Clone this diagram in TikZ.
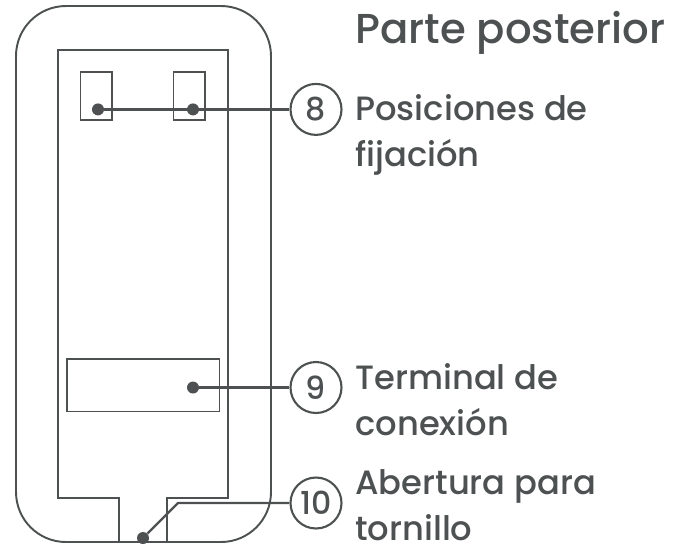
\documentclass[tikz,border=0pt]{standalone}
\usepackage{fontspec}
\setmainfont{Poppins Medium}
\definecolor{inkgray}{HTML}{4D5152}
\tikzset{
  part/.style={draw=inkgray,line width=1.1pt},
  conn/.style={draw=inkgray,line width=1.3pt},
  pin/.style={circle,fill=inkgray,inner sep=0pt,minimum size=0.24cm},
  badge/.style={circle,draw=inkgray,line width=1.2pt,inner sep=0pt,minimum size=1.02cm,text=inkgray,font=\fontsize{18}{20}\selectfont},
  caption/.style={anchor=west,align=left,text=inkgray,inner sep=0pt,font=\fontsize{19.2}{26.1}\selectfont},
}
\begin{document}
\begin{tikzpicture}[x=0.02cm,y=-0.02cm]
  \useasboundingbox (0,0) rectangle (685,545);
  \draw[part] (16,56) arc[start angle=180,end angle=90,radius=1cm] -- (221,6)
    arc[start angle=90,end angle=0,radius=1cm] -- (271,492)
    arc[start angle=0,end angle=-90,radius=1cm] -- (66,542)
    arc[start angle=270,end angle=180,radius=1cm] -- cycle;
  \draw[part] (58,50) rectangle (228,498);
  \fill[white] (120,497) rectangle (166,499);
  \draw[part] (119,498) -- (119,542);
  \draw[part] (167,498) -- (167,542);
  \draw[part] (80.5,72) rectangle (112,120);
  \draw[part] (173.5,72) rectangle (205,120);
  \draw[part] (67,359) rectangle (219.5,411.5);

  \node[pin] (pinA) at (98,109.4) {};
  \node[pin] (pinB) at (193,109.4) {};
  \node[pin] (pinC) at (193,387.5) {};
  \node[pin] (pinD) at (143,538) {};
  \node[badge] (numA) at (316,109.4) {8};
  \node[badge] (numB) at (316,387.5) {9};
  \node[badge] (numC) at (316,503) {10};
  \coordinate (bendC) at (178,503);

  \draw[conn] (numA) -- (pinA);
  \draw[conn] (numB) -- (pinC);
  \draw[conn] (numC) -- (bendC) -- (pinD);

  \node[anchor=base west,inner sep=0pt,text=inkgray,font=\fontsize{23.8}{26}\selectfont] (title) at (355,43) {Parte posterior};
  \node[caption] (capA) at (355,134.5) {Posiciones de\\fijación};
  \node[caption] (capB) at (355,400) {Terminal de\\conexión};
  \node[caption] (capC) at (355,505) {Abertura para\\tornillo};
\end{tikzpicture}
\end{document}
